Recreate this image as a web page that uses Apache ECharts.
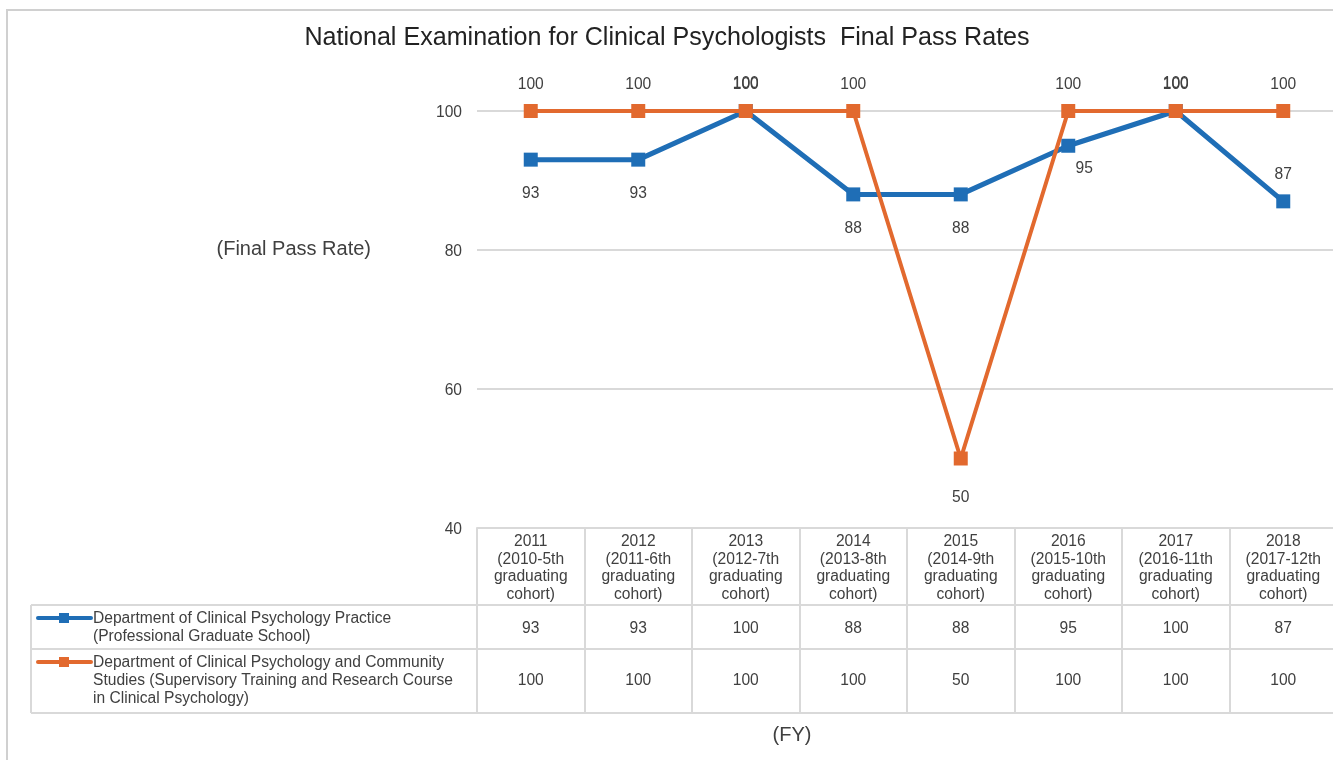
<!DOCTYPE html>
<html>
<head>
<meta charset="utf-8">
<script src="https://cdn.jsdelivr.net/npm/echarts@6/dist/echarts.min.js"></script>
<style>html,body{margin:0;padding:0;background:#fff;overflow:hidden;}#c{width:1341px;height:760px;}</style>
</head>
<body>
<div id="c"></div>
<script>
const titleText = 'National Examination for Clinical Psychologists  Final Pass Rates';
const fiscalYears = ['2011','2012','2013','2014','2015','2016','2017','2018'];
const cohorts = ['2010-5th','2011-6th','2012-7th','2013-8th','2014-9th','2015-10th','2016-11th','2017-12th'];
const seriesNames = [
  'Department of Clinical Psychology Practice\n(Professional Graduate School)',
  'Department of Clinical Psychology and Community\nStudies (Supervisory Training and Research Course\nin Clinical Psychology)'
];
const practiceRates = [93, 93, 100, 88, 88, 95, 100, 87];
const communityRates = [100, 100, 100, 100, 50, 100, 100, 100];
const yTicks = [40, 60, 80, 100];
const yAxisTitle = '(Final Pass Rate)';
const xAxisTitle = '(FY)';

const BLUE = '#1f6eb6';
const ORANGE = '#e2692e';
const GRID = '#d9d9d9';
const TXT = '#404040';
const FONT = 'Liberation Sans, Arial, sans-serif';
const FS = 15.6;

const categories = fiscalYears.map((y, i) => y + '\n(' + cohorts[i] + '\ngraduating\ncohort)');

// layout geometry
const gl = 477, gt = 111, gw = 860, gh = 417;
const rowH = [77, 44, 64];

function blueLabel(v, i) {
  const other = communityRates[i];
  if (v === other) return { position: 'top', distance: 12 };
  if (i === practiceRates.length - 1) return { position: 'top', distance: 12 };
  if (i > 0 && v > practiceRates[i - 1] && practiceRates[i + 1] > v) return { position: 'bottom', distance: 8, offset: [16, 0] };
  return { position: 'bottom', distance: 19 };
}
function orangeLabel(v) {
  return v < 100 ? { position: 'bottom', distance: 24 } : { position: 'top', distance: 11 };
}

function tableAxis(offset, len, fmt, margin, showLabel) {
  return {
    type: 'category', data: categories, position: 'bottom', offset: offset,
    boundaryGap: true,
    axisLine: { show: true, lineStyle: { color: GRID, width: 2 } },
    axisTick: { show: len > 0, interval: 0, length: len, lineStyle: { color: GRID, width: 2 } },
    axisLabel: {
      show: showLabel, interval: 0, margin: margin, formatter: fmt,
      color: TXT, fontFamily: FONT, fontSize: FS, lineHeight: 17.6,
      verticalAlign: 'middle'
    },
    splitLine: { show: false }
  };
}

const xAxes = [
  tableAxis(0, rowH[0], v => v, rowH[0] / 2 + 1.5, true),
  tableAxis(rowH[0], rowH[1], (v, i) => String(practiceRates[i]), rowH[1] / 2 + 1.5, true),
  tableAxis(rowH[0] + rowH[1], rowH[2], (v, i) => String(communityRates[i]), rowH[2] / 2, true),
  tableAxis(rowH[0] + rowH[1] + rowH[2], 0, v => '', 10, false)
];

const tableLeft = 31;
const legendRowsTop = gt + gh + rowH[0];
const graphics = [
  { type: 'rect', shape: { x: 7, y: 10, width: 1400, height: 800 }, style: { fill: 'none', stroke: '#d0d0d0', lineWidth: 2 }, silent: true },
  { type: 'line', shape: { x1: tableLeft, y1: legendRowsTop, x2: gl, y2: legendRowsTop }, style: { stroke: GRID, lineWidth: 2 } },
  { type: 'line', shape: { x1: tableLeft, y1: legendRowsTop + rowH[1], x2: gl, y2: legendRowsTop + rowH[1] }, style: { stroke: GRID, lineWidth: 2 } },
  { type: 'line', shape: { x1: tableLeft, y1: legendRowsTop + rowH[1] + rowH[2], x2: gl, y2: legendRowsTop + rowH[1] + rowH[2] }, style: { stroke: GRID, lineWidth: 2 } },
  { type: 'line', shape: { x1: tableLeft, y1: legendRowsTop, x2: tableLeft, y2: legendRowsTop + rowH[1] + rowH[2] }, style: { stroke: GRID, lineWidth: 2 } },
  { type: 'text', x: 371, y: 249, style: { text: yAxisTitle, fill: TXT, font: '20px ' + FONT, textAlign: 'right', textVerticalAlign: 'middle' } },
  { type: 'text', x: 792, y: 735, style: { text: xAxisTitle, fill: TXT, font: '20px ' + FONT, textAlign: 'center', textVerticalAlign: 'middle' } }
];
[BLUE, ORANGE].forEach((col, k) => {
  const top = legendRowsTop + (k === 0 ? 0 : rowH[1]);
  const iy = top + 13;
  graphics.push({ type: 'line', shape: { x1: 38, y1: iy, x2: 91, y2: iy }, style: { stroke: col, lineWidth: 4, lineCap: 'round' } });
  graphics.push({ type: 'rect', shape: { x: 59, y: iy - 5, width: 10, height: 10 }, style: { fill: col } });
  graphics.push({ type: 'text', x: 93, y: top + 5, style: { text: seriesNames[k], fill: TXT, font: FS + 'px ' + FONT, lineHeight: 18, textVerticalAlign: 'top' } });
});

const option = {
  animation: false,
  backgroundColor: '#fff',
  title: {
    text: titleText, left: 662, top: 21, textAlign: 'center',
    textStyle: { color: '#222', fontFamily: FONT, fontSize: 25.1, fontWeight: 'normal' }
  },
  grid: { left: gl, top: gt, width: gw, height: gh, containLabel: false },
  xAxis: xAxes,
  yAxis: {
    type: 'value', min: yTicks[0], max: yTicks[yTicks.length - 1], interval: 20,
    axisLine: { show: false }, axisTick: { show: false },
    axisLabel: { color: TXT, fontFamily: FONT, fontSize: FS, margin: 15, verticalAlign: 'top', lineHeight: 18, padding: [-7, 0, 0, 0] },
    splitLine: { lineStyle: { color: GRID, width: 2 } }
  },
  graphic: graphics,
  series: [
    {
      name: seriesNames[0], type: 'line', xAxisIndex: 0, z: 2,
      symbol: 'rect', symbolSize: 14,
      lineStyle: { color: BLUE, width: 5 }, itemStyle: { color: BLUE },
      label: { show: true, color: TXT, fontFamily: FONT, fontSize: FS },
      data: practiceRates.map((v, i) => ({ value: v, label: blueLabel(v, i) }))
    },
    {
      name: seriesNames[1], type: 'line', xAxisIndex: 0, z: 3,
      symbol: 'rect', symbolSize: 14,
      lineStyle: { color: ORANGE, width: 4 }, itemStyle: { color: ORANGE },
      label: { show: true, color: TXT, fontFamily: FONT, fontSize: FS },
      data: communityRates.map(v => ({ value: v, label: orangeLabel(v) }))
    }
  ]
};
const chart = echarts.init(document.getElementById('c'), null, { renderer: 'canvas' });
chart.setOption(option);
</script>
</body>
</html>
